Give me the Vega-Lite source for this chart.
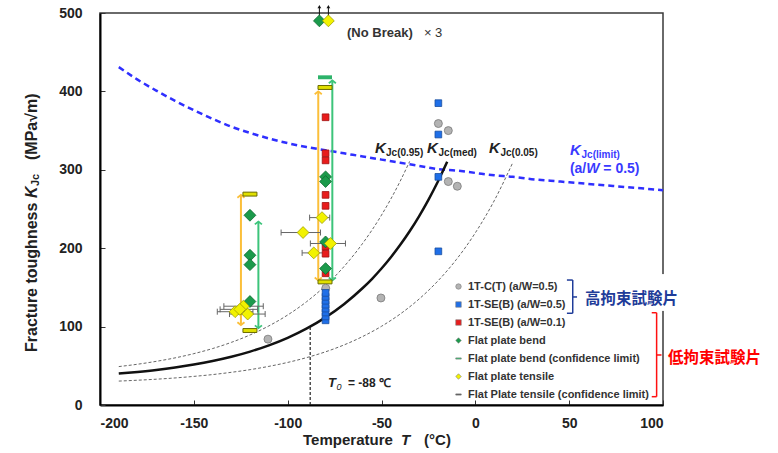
{
  "$schema": "https://vega.github.io/schema/vega-lite/v6.json",
  "width": 563,
  "height": 392,
  "autosize": {"type": "none"},
  "padding": {"left": 100, "top": 13, "right": 115, "bottom": 48},
  "background": "white",
  "config": {
    "view": {"stroke": "#3a3a3a", "strokeWidth": 1.5},
    "font": "Liberation Sans",
    "axis": {"grid": false, "labelFont": "Liberation Sans", "labelFontSize": 14, "labelFontWeight": "bold", "labelColor": "#222", "domainColor": "#000", "domainWidth": 2, "tickColor": "#333", "tickSize": -5, "tickWidth": 1, "labelExpr": "toString(datum.value)"},
    "axisX": {"labelPadding": 16},
    "axisY": {"labelPadding": 23},
    "legend": {"orient": "none", "legendX": 353, "legendY": 268, "padding": 0, "labelFont": "Liberation Sans", "labelFontSize": 11, "labelFontWeight": "bold", "labelColor": "#333", "symbolSize": 30, "rowPadding": 6, "labelOffset": 4, "labelLimit": 300, "symbolStrokeWidth": 0.6}
  },
  "datasets": {
    "one": [{}],
    "curves": [
      {"curve": "lim", "T": -190, "K": 431}, {"curve": "lim", "T": -180, "K": 415}, {"curve": "lim", "T": -170, "K": 401}, {"curve": "lim", "T": -160, "K": 388}, {"curve": "lim", "T": -150, "K": 376}, {"curve": "lim", "T": -140, "K": 365}, {"curve": "lim", "T": -130, "K": 355}, {"curve": "lim", "T": -120, "K": 347}, {"curve": "lim", "T": -110, "K": 340}, {"curve": "lim", "T": -100, "K": 334}, {"curve": "lim", "T": -90, "K": 329}, {"curve": "lim", "T": -80, "K": 325}, {"curve": "lim", "T": -70, "K": 321}, {"curve": "lim", "T": -60, "K": 317}, {"curve": "lim", "T": -50, "K": 313}, {"curve": "lim", "T": -40, "K": 309}, {"curve": "lim", "T": -30, "K": 305}, {"curve": "lim", "T": -20, "K": 301}, {"curve": "lim", "T": -10, "K": 299}, {"curve": "lim", "T": 0, "K": 296}, {"curve": "lim", "T": 10, "K": 293}, {"curve": "lim", "T": 20, "K": 291}, {"curve": "lim", "T": 30, "K": 288}, {"curve": "lim", "T": 40, "K": 286}, {"curve": "lim", "T": 50, "K": 284}, {"curve": "lim", "T": 60, "K": 282}, {"curve": "lim", "T": 70, "K": 280}, {"curve": "lim", "T": 80, "K": 278}, {"curve": "lim", "T": 90, "K": 276}, {"curve": "lim", "T": 100, "K": 274},
      {"curve": "med", "T": -190, "K": 40.1}, {"curve": "med", "T": -180, "K": 42.2}, {"curve": "med", "T": -170, "K": 44.7}, {"curve": "med", "T": -160, "K": 47.8}, {"curve": "med", "T": -150, "K": 51.6}, {"curve": "med", "T": -140, "K": 56.1}, {"curve": "med", "T": -130, "K": 61.5}, {"curve": "med", "T": -120, "K": 68.1}, {"curve": "med", "T": -110, "K": 76.1}, {"curve": "med", "T": -100, "K": 85.7}, {"curve": "med", "T": -90, "K": 97.4}, {"curve": "med", "T": -80, "K": 111.5}, {"curve": "med", "T": -70, "K": 128.6}, {"curve": "med", "T": -60, "K": 149.2}, {"curve": "med", "T": -55, "K": 161.0}, {"curve": "med", "T": -50, "K": 174.1}, {"curve": "med", "T": -45, "K": 188.5}, {"curve": "med", "T": -40, "K": 204.3}, {"curve": "med", "T": -35, "K": 221.6}, {"curve": "med", "T": -30, "K": 240.7}, {"curve": "med", "T": -25, "K": 261.7}, {"curve": "med", "T": -20, "K": 284.8}, {"curve": "med", "T": -15, "K": 310.2},
      {"curve": "p05", "T": -190, "K": 30.5}, {"curve": "p05", "T": -180, "K": 31.6}, {"curve": "p05", "T": -170, "K": 32.9}, {"curve": "p05", "T": -160, "K": 34.5}, {"curve": "p05", "T": -150, "K": 36.5}, {"curve": "p05", "T": -140, "K": 38.8}, {"curve": "p05", "T": -130, "K": 41.7}, {"curve": "p05", "T": -120, "K": 45.1}, {"curve": "p05", "T": -110, "K": 49.3}, {"curve": "p05", "T": -100, "K": 54.3}, {"curve": "p05", "T": -90, "K": 60.4}, {"curve": "p05", "T": -80, "K": 67.7}, {"curve": "p05", "T": -70, "K": 76.6}, {"curve": "p05", "T": -60, "K": 87.4}, {"curve": "p05", "T": -50, "K": 100.4}, {"curve": "p05", "T": -40, "K": 116.1}, {"curve": "p05", "T": -30, "K": 135.1}, {"curve": "p05", "T": -20, "K": 158.1}, {"curve": "p05", "T": -10, "K": 185.9}, {"curve": "p05", "T": 0, "K": 219.6}, {"curve": "p05", "T": 10, "K": 260.3}, {"curve": "p05", "T": 20, "K": 309.4},
      {"curve": "p95", "T": -190, "K": 49.0}, {"curve": "p95", "T": -180, "K": 52.0}, {"curve": "p95", "T": -170, "K": 55.7}, {"curve": "p95", "T": -160, "K": 60.1}, {"curve": "p95", "T": -150, "K": 65.5}, {"curve": "p95", "T": -140, "K": 72.0}, {"curve": "p95", "T": -130, "K": 79.9}, {"curve": "p95", "T": -120, "K": 89.4}, {"curve": "p95", "T": -110, "K": 100.9}, {"curve": "p95", "T": -100, "K": 114.8}, {"curve": "p95", "T": -90, "K": 131.6}, {"curve": "p95", "T": -80, "K": 151.9}, {"curve": "p95", "T": -70, "K": 176.5}, {"curve": "p95", "T": -60, "K": 206.3}, {"curve": "p95", "T": -50, "K": 242.2}, {"curve": "p95", "T": -40, "K": 285.7}, {"curve": "p95", "T": -35, "K": 310.7}
    ],
    "points": [
      {"series": "1T-C(T) (a/W=0.5)", "T": -19.7, "K": 359}, {"series": "1T-C(T) (a/W=0.5)", "T": -14.4, "K": 350}, {"series": "1T-C(T) (a/W=0.5)", "T": -14.4, "K": 285}, {"series": "1T-C(T) (a/W=0.5)", "T": -9.6, "K": 279}, {"series": "1T-C(T) (a/W=0.5)", "T": -50.3, "K": 136.5}, {"series": "1T-C(T) (a/W=0.5)", "T": -110.5, "K": 84}, {"series": "1T-C(T) (a/W=0.5)", "T": -79.7, "K": 149},
      {"series": "1T-SE(B) (a/W=0.5)", "T": -19.7, "K": 385}, {"series": "1T-SE(B) (a/W=0.5)", "T": -19.7, "K": 345}, {"series": "1T-SE(B) (a/W=0.5)", "T": -19.7, "K": 291}, {"series": "1T-SE(B) (a/W=0.5)", "T": -19.7, "K": 196}, {"series": "1T-SE(B) (a/W=0.5)", "T": -79.8, "K": 108}, {"series": "1T-SE(B) (a/W=0.5)", "T": -79.8, "K": 113}, {"series": "1T-SE(B) (a/W=0.5)", "T": -79.8, "K": 118}, {"series": "1T-SE(B) (a/W=0.5)", "T": -79.8, "K": 123}, {"series": "1T-SE(B) (a/W=0.5)", "T": -79.8, "K": 128}, {"series": "1T-SE(B) (a/W=0.5)", "T": -79.8, "K": 133}, {"series": "1T-SE(B) (a/W=0.5)", "T": -79.8, "K": 138}, {"series": "1T-SE(B) (a/W=0.5)", "T": -79.8, "K": 143},
      {"series": "1T-SE(B) (a/W=0.1)", "T": -79.8, "K": 367}, {"series": "1T-SE(B) (a/W=0.1)", "T": -79.8, "K": 321}, {"series": "1T-SE(B) (a/W=0.1)", "T": -79.8, "K": 312}, {"series": "1T-SE(B) (a/W=0.1)", "T": -79.8, "K": 268}, {"series": "1T-SE(B) (a/W=0.1)", "T": -79.8, "K": 254}, {"series": "1T-SE(B) (a/W=0.1)", "T": -79.8, "K": 202}, {"series": "1T-SE(B) (a/W=0.1)", "T": -79.8, "K": 193}, {"series": "1T-SE(B) (a/W=0.1)", "T": -79.8, "K": 168},
      {"series": "Flat plate bend", "T": -79.8, "K": 291}, {"series": "Flat plate bend", "T": -79.8, "K": 285}, {"series": "Flat plate bend", "T": -79.8, "K": 208}, {"series": "Flat plate bend", "T": -79.8, "K": 174}, {"series": "Flat plate bend", "T": -120.1, "K": 242}, {"series": "Flat plate bend", "T": -120.1, "K": 191}, {"series": "Flat plate bend", "T": -120.1, "K": 179}, {"series": "Flat plate bend", "T": -120.1, "K": 132}, {"series": "Flat plate bend", "T": -83.1, "K": 490},
      {"series": "Flat plate tensile", "T": -81.7, "K": 239, "xmin": -88.3, "xmax": -77.6}, {"series": "Flat plate tensile", "T": -91.8, "K": 220, "xmin": -103.5, "xmax": -82.5}, {"series": "Flat plate tensile", "T": -77.2, "K": 206, "xmin": -87.9, "xmax": -69.2}, {"series": "Flat plate tensile", "T": -86.1, "K": 194, "xmin": -92.3, "xmax": -80.8}, {"series": "Flat plate tensile", "T": -128, "K": 119, "xmin": -137.5, "xmax": -118.5}, {"series": "Flat plate tensile", "T": -123.6, "K": 126, "xmin": -134, "xmax": -113}, {"series": "Flat plate tensile", "T": -121.3, "K": 116, "xmin": -131, "xmax": -112}, {"series": "Flat plate tensile", "T": -125.5, "K": 122, "xmin": -136, "xmax": -116}, {"series": "Flat plate tensile", "T": -78.3, "K": 490}
    ],
    "arrows": [
      {"kind": "tensile", "T": -124.9, "lo": 102, "hi": 268}, {"kind": "bend", "T": -115.6, "lo": 98, "hi": 234},
      {"kind": "tensile", "T": -83.7, "lo": 159, "hi": 400}, {"kind": "bend", "T": -76.2, "lo": 159, "hi": 414}
    ],
    "limits": [
      {"kind": "tensile", "T": -120.1, "K": 269}, {"kind": "tensile", "T": -120.1, "K": 95},
      {"kind": "bend", "T": -80.1, "K": 418}, {"kind": "tensile", "T": -80.1, "K": 405}, {"kind": "tensile", "T": -80.1, "K": 157}
    ],
    "nobreak": [{"T": -83.1}, {"T": -78.3}],
    "brackets": [
      {"g": "hi", "x1": 51.9, "x2": 51.9, "y1": 159.4, "y2": 117}, {"g": "hi", "x1": 48.8, "x2": 51.9, "y1": 159.4, "y2": 159.4}, {"g": "hi", "x1": 48.8, "x2": 51.9, "y1": 117, "y2": 117}, {"g": "hi", "x1": 51.9, "x2": 54.2, "y1": 137.8, "y2": 137.8},
      {"g": "lo", "x1": 96.6, "x2": 96.6, "y1": 117.7, "y2": 10.6}, {"g": "lo", "x1": 94, "x2": 96.6, "y1": 117.7, "y2": 117.7}, {"g": "lo", "x1": 94, "x2": 96.6, "y1": 10.6, "y2": 10.6}, {"g": "lo", "x1": 96.6, "x2": 99.2, "y1": 63.8, "y2": 63.8}
    ]
  },
  "layer": [
    {"data": {"name": "curves"}, "transform": [{"filter": "datum.curve == 'lim'"}],
     "mark": {"type": "line", "color": "#2f2fff", "strokeWidth": 2.5, "strokeDash": [6, 4], "interpolate": "monotone"},
     "encoding": {
       "x": {"field": "T", "type": "quantitative", "title": null, "scale": {"domain": [-200, 100], "nice": false, "zero": false}, "axis": {"values": [-200, -150, -100, -50, 0, 50, 100]}},
       "y": {"field": "K", "type": "quantitative", "title": null, "scale": {"domain": [0, 500], "nice": false}, "axis": {"values": [0, 100, 200, 300, 400, 500]}}}},
    {"data": {"name": "curves"}, "transform": [{"filter": "datum.curve == 'p05' || datum.curve == 'p95'"}],
     "mark": {"type": "line", "color": "#666", "strokeWidth": 1, "strokeDash": [3, 2], "interpolate": "monotone"},
     "encoding": {"x": {"field": "T", "type": "quantitative", "title": null}, "y": {"field": "K", "type": "quantitative", "title": null}, "detail": {"field": "curve"}}},
    {"data": {"name": "curves"}, "transform": [{"filter": "datum.curve == 'med'"}],
     "mark": {"type": "line", "color": "#111", "strokeWidth": 2.5, "interpolate": "monotone"},
     "encoding": {"x": {"field": "T", "type": "quantitative", "title": null}, "y": {"field": "K", "type": "quantitative", "title": null}}},
    {"data": {"name": "one"}, "mark": {"type": "rule", "color": "#222", "strokeWidth": 1.2, "strokeDash": [3, 2]},
     "encoding": {"x": {"datum": -88, "type": "quantitative", "title": null}, "y": {"datum": 0, "type": "quantitative", "title": null}, "y2": {"datum": 100}}},
    {"data": {"name": "arrows"}, "transform": [{"filter": "datum.kind == 'tensile'"}], "mark": {"type": "rule", "color": "#fbbf3a", "strokeWidth": 2},
     "encoding": {"x": {"field": "T", "type": "quantitative", "title": null}, "y": {"field": "lo", "type": "quantitative", "title": null}, "y2": {"field": "hi"}}},
    {"data": {"name": "arrows"}, "transform": [{"filter": "datum.kind == 'bend'"}], "mark": {"type": "rule", "color": "#3cc47a", "strokeWidth": 2},
     "encoding": {"x": {"field": "T", "type": "quantitative", "title": null}, "y": {"field": "lo", "type": "quantitative", "title": null}, "y2": {"field": "hi"}}},
    {"data": {"name": "arrows"}, "transform": [{"filter": "datum.kind == 'tensile'"}], "mark": {"type": "point", "shape": "M-1,0.8L0,0L1,0.8", "filled": false, "stroke": "#fbbf3a", "strokeWidth": 1.8, "size": 50, "opacity": 1},
     "encoding": {"x": {"field": "T", "type": "quantitative", "title": null}, "y": {"field": "hi", "type": "quantitative", "title": null}}},
    {"data": {"name": "arrows"}, "transform": [{"filter": "datum.kind == 'tensile'"}], "mark": {"type": "point", "shape": "M-1,-0.8L0,0L1,-0.8", "filled": false, "stroke": "#fbbf3a", "strokeWidth": 1.8, "size": 50, "opacity": 1},
     "encoding": {"x": {"field": "T", "type": "quantitative", "title": null}, "y": {"field": "lo", "type": "quantitative", "title": null}}},
    {"data": {"name": "arrows"}, "transform": [{"filter": "datum.kind == 'bend'"}], "mark": {"type": "point", "shape": "M-1,0.8L0,0L1,0.8", "filled": false, "stroke": "#3cc47a", "strokeWidth": 1.8, "size": 50, "opacity": 1},
     "encoding": {"x": {"field": "T", "type": "quantitative", "title": null}, "y": {"field": "hi", "type": "quantitative", "title": null}}},
    {"data": {"name": "arrows"}, "transform": [{"filter": "datum.kind == 'bend'"}], "mark": {"type": "point", "shape": "M-1,-0.8L0,0L1,-0.8", "filled": false, "stroke": "#3cc47a", "strokeWidth": 1.8, "size": 50, "opacity": 1},
     "encoding": {"x": {"field": "T", "type": "quantitative", "title": null}, "y": {"field": "lo", "type": "quantitative", "title": null}}},
    {"data": {"name": "limits"}, "transform": [{"filter": "datum.kind == 'tensile'"}], "mark": {"type": "point", "shape": "M-1,-0.28H1V0.28H-1Z", "filled": true, "fill": "#e0e000", "stroke": "#6b6b00", "strokeWidth": 1, "size": 196, "opacity": 1},
     "encoding": {"x": {"field": "T", "type": "quantitative", "title": null}, "y": {"field": "K", "type": "quantitative", "title": null}}},
    {"data": {"name": "limits"}, "transform": [{"filter": "datum.kind == 'bend'"}], "mark": {"type": "point", "shape": "M-1,-0.28H1V0.28H-1Z", "filled": true, "fill": "#2db36a", "strokeWidth": 0, "size": 196, "opacity": 1},
     "encoding": {"x": {"field": "T", "type": "quantitative", "title": null}, "y": {"field": "K", "type": "quantitative", "title": null}}},
    {"data": {"name": "points"}, "transform": [{"filter": "datum.xmin != null"}], "mark": {"type": "rule", "color": "#666", "strokeWidth": 1},
     "encoding": {"x": {"field": "xmin", "type": "quantitative", "title": null}, "x2": {"field": "xmax"}, "y": {"field": "K", "type": "quantitative", "title": null}}},
    {"data": {"name": "points"}, "transform": [{"filter": "datum.xmin != null"}], "mark": {"type": "point", "shape": "M0,-1L0,1", "filled": false, "stroke": "#666", "strokeWidth": 1, "size": 36, "opacity": 1},
     "encoding": {"x": {"field": "xmin", "type": "quantitative", "title": null}, "y": {"field": "K", "type": "quantitative", "title": null}}},
    {"data": {"name": "points"}, "transform": [{"filter": "datum.xmin != null"}], "mark": {"type": "point", "shape": "M0,-1L0,1", "filled": false, "stroke": "#666", "strokeWidth": 1, "size": 36, "opacity": 1},
     "encoding": {"x": {"field": "xmax", "type": "quantitative", "title": null}, "y": {"field": "K", "type": "quantitative", "title": null}}},
    {"data": {"name": "nobreak"}, "mark": {"type": "rule", "color": "#111", "strokeWidth": 1},
     "encoding": {"x": {"field": "T", "type": "quantitative", "title": null}, "y": {"datum": 490, "type": "quantitative", "title": null}, "y2": {"datum": 507}}},
    {"data": {"name": "nobreak"}, "mark": {"type": "point", "shape": "triangle-up", "filled": true, "fill": "#111", "size": 14, "opacity": 1, "strokeWidth": 0},
     "encoding": {"x": {"field": "T", "type": "quantitative", "title": null}, "y": {"datum": 508, "type": "quantitative", "title": null}}},
    {"data": {"name": "points"}, "transform": [{"filter": "datum.series == '1T-C(T) (a/W=0.5)'"}], "mark": {"type": "point", "filled": true, "opacity": 1, "size": 64, "stroke": "#7a7a7a", "strokeWidth": 0.8},
     "encoding": {
       "x": {"field": "T", "type": "quantitative", "title": null},
       "y": {"field": "K", "type": "quantitative", "title": null},
       "color": {"field": "series", "type": "nominal", "title": null,
         "scale": {"domain": ["1T-C(T) (a/W=0.5)", "1T-SE(B) (a/W=0.5)", "1T-SE(B) (a/W=0.1)", "Flat plate bend", "Flat plate bend (confidence limit)", "Flat plate tensile", "Flat Plate tensile (confidence limit)"],
                   "range": ["#b3b3b3", "#1f6fe8", "#e81c1c", "#1b9a4b", "#2ecc71", "#f2f200", "#555555"]},
         "legend": {"title": null, "symbolSize": 30}},
       "shape": {"field": "series", "type": "nominal", "title": null,
         "scale": {"domain": ["1T-C(T) (a/W=0.5)", "1T-SE(B) (a/W=0.5)", "1T-SE(B) (a/W=0.1)", "Flat plate bend", "Flat plate bend (confidence limit)", "Flat plate tensile", "Flat Plate tensile (confidence limit)"],
                   "range": ["circle", "square", "square", "diamond", "M-1,-0.22H1V0.22H-1Z", "diamond", "M-1,-0.22H1V0.22H-1Z"]},
         "legend": {"title": null, "symbolSize": 30}}}},
    {"data": {"name": "points"}, "transform": [{"filter": "datum.series == '1T-SE(B) (a/W=0.5)'"}], "mark": {"type": "point", "filled": true, "opacity": 1, "size": 45, "stroke": "#1a4fa0", "strokeWidth": 0.8},
     "encoding": {"x": {"field": "T", "type": "quantitative", "title": null}, "y": {"field": "K", "type": "quantitative", "title": null}, "color": {"field": "series", "type": "nominal", "title": null}, "shape": {"field": "series", "type": "nominal", "title": null}}},
    {"data": {"name": "points"}, "transform": [{"filter": "datum.series == '1T-SE(B) (a/W=0.1)'"}], "mark": {"type": "point", "filled": true, "opacity": 1, "size": 45, "stroke": "#a01010", "strokeWidth": 0.8},
     "encoding": {"x": {"field": "T", "type": "quantitative", "title": null}, "y": {"field": "K", "type": "quantitative", "title": null}, "color": {"field": "series", "type": "nominal", "title": null}, "shape": {"field": "series", "type": "nominal", "title": null}}},
    {"data": {"name": "points"}, "transform": [{"filter": "datum.series == 'Flat plate bend'"}], "mark": {"type": "point", "filled": true, "opacity": 1, "size": 140, "stroke": "#0d6b30", "strokeWidth": 0.8},
     "encoding": {"x": {"field": "T", "type": "quantitative", "title": null}, "y": {"field": "K", "type": "quantitative", "title": null}, "color": {"field": "series", "type": "nominal", "title": null}, "shape": {"field": "series", "type": "nominal", "title": null}}},
    {"data": {"name": "points"}, "transform": [{"filter": "datum.series == 'Flat plate tensile'"}], "mark": {"type": "point", "filled": true, "opacity": 1, "size": 140, "stroke": "#a0a000", "strokeWidth": 0.8},
     "encoding": {"x": {"field": "T", "type": "quantitative", "title": null}, "y": {"field": "K", "type": "quantitative", "title": null}, "color": {"field": "series", "type": "nominal", "title": null}, "shape": {"field": "series", "type": "nominal", "title": null}}},
    {"data": {"name": "one"}, "mark": {"type": "text", "text": "(No Break)", "align": "left", "baseline": "middle", "fontSize": 13, "fontWeight": "bold", "fill": "#333"},
     "encoding": {"x": {"datum": -68.4, "type": "quantitative", "title": null}, "y": {"datum": 474.5, "type": "quantitative", "title": null}}},
    {"data": {"name": "one"}, "mark": {"type": "text", "text": "× 3", "align": "left", "baseline": "middle", "fontSize": 13, "fill": "#333"},
     "encoding": {"x": {"datum": -27.4, "type": "quantitative", "title": null}, "y": {"datum": 474.5, "type": "quantitative", "title": null}}},
    {"data": {"name": "one"}, "mark": {"type": "text", "text": "T", "align": "left", "baseline": "middle", "fontSize": 13, "fontWeight": "bold", "fontStyle": "italic", "fill": "#222"},
     "encoding": {"x": {"datum": -78.5, "type": "quantitative", "title": null}, "y": {"datum": 28.1, "type": "quantitative", "title": null}}},
    {"data": {"name": "one"}, "mark": {"type": "text", "text": "0", "align": "left", "baseline": "middle", "dy": 4, "fontSize": 9, "fontStyle": "italic", "fill": "#222"},
     "encoding": {"x": {"datum": -74.0, "type": "quantitative", "title": null}, "y": {"datum": 28.1, "type": "quantitative", "title": null}}},
    {"data": {"name": "one"}, "mark": {"type": "text", "text": "= -88 ℃", "align": "left", "baseline": "middle", "fontSize": 12, "fontWeight": "bold", "fill": "#222"},
     "encoding": {"x": {"datum": -67.9, "type": "quantitative", "title": null}, "y": {"datum": 28.1, "type": "quantitative", "title": null}}},
    {"data": {"name": "one"}, "mark": {"type": "text", "text": "K", "align": "left", "baseline": "alphabetic", "fontSize": 15, "fontWeight": "bold", "fontStyle": "italic", "fill": "#222"},
     "encoding": {"x": {"datum": -53.5, "type": "quantitative", "title": null}, "y": {"datum": 321.4, "type": "quantitative", "title": null}}},
    {"data": {"name": "one"}, "mark": {"type": "text", "text": "Jc(0.95)", "align": "left", "baseline": "alphabetic", "fontSize": 10, "fontWeight": "bold", "fill": "#222"},
     "encoding": {"x": {"datum": -47.6, "type": "quantitative", "title": null}, "y": {"datum": 317.6, "type": "quantitative", "title": null}}},
    {"data": {"name": "one"}, "mark": {"type": "text", "text": "K", "align": "left", "baseline": "alphabetic", "fontSize": 15, "fontWeight": "bold", "fontStyle": "italic", "fill": "#222"},
     "encoding": {"x": {"datum": -25.8, "type": "quantitative", "title": null}, "y": {"datum": 321.4, "type": "quantitative", "title": null}}},
    {"data": {"name": "one"}, "mark": {"type": "text", "text": "Jc(med)", "align": "left", "baseline": "alphabetic", "fontSize": 10, "fontWeight": "bold", "fill": "#222"},
     "encoding": {"x": {"datum": -19.6, "type": "quantitative", "title": null}, "y": {"datum": 317.6, "type": "quantitative", "title": null}}},
    {"data": {"name": "one"}, "mark": {"type": "text", "text": "K", "align": "left", "baseline": "alphabetic", "fontSize": 15, "fontWeight": "bold", "fontStyle": "italic", "fill": "#222"},
     "encoding": {"x": {"datum": 7.3, "type": "quantitative", "title": null}, "y": {"datum": 321.4, "type": "quantitative", "title": null}}},
    {"data": {"name": "one"}, "mark": {"type": "text", "text": "Jc(0.05)", "align": "left", "baseline": "alphabetic", "fontSize": 10, "fontWeight": "bold", "fill": "#222"},
     "encoding": {"x": {"datum": 13.4, "type": "quantitative", "title": null}, "y": {"datum": 317.6, "type": "quantitative", "title": null}}},
    {"data": {"name": "one"}, "mark": {"type": "text", "text": "K", "align": "left", "baseline": "alphabetic", "fontSize": 15, "fontWeight": "bold", "fontStyle": "italic", "fill": "#3a3aff"},
     "encoding": {"x": {"datum": 50.4, "type": "quantitative", "title": null}, "y": {"datum": 318.9, "type": "quantitative", "title": null}}},
    {"data": {"name": "one"}, "mark": {"type": "text", "text": "Jc(limit)", "align": "left", "baseline": "alphabetic", "fontSize": 10, "fontWeight": "bold", "fill": "#3a3aff"},
     "encoding": {"x": {"datum": 56.6, "type": "quantitative", "title": null}, "y": {"datum": 315.1, "type": "quantitative", "title": null}}},
    {"data": {"name": "one"}, "mark": {"type": "text", "text": "(a/", "align": "left", "baseline": "alphabetic", "fontSize": 14, "fontWeight": "bold", "fill": "#3a3aff"},
     "encoding": {"x": {"datum": 50.4, "type": "quantitative", "title": null}, "y": {"datum": 295.9, "type": "quantitative", "title": null}}},
    {"data": {"name": "one"}, "mark": {"type": "text", "text": "W", "align": "left", "baseline": "alphabetic", "fontSize": 14, "fontWeight": "bold", "fontStyle": "italic", "fill": "#3a3aff"},
     "encoding": {"x": {"datum": 59.1, "type": "quantitative", "title": null}, "y": {"datum": 295.9, "type": "quantitative", "title": null}}},
    {"data": {"name": "one"}, "mark": {"type": "text", "text": "= 0.5)", "align": "left", "baseline": "alphabetic", "fontSize": 14, "fontWeight": "bold", "fill": "#3a3aff"},
     "encoding": {"x": {"datum": 68.2, "type": "quantitative", "title": null}, "y": {"datum": 295.9, "type": "quantitative", "title": null}}},
    {"data": {"name": "one"}, "mark": {"type": "text", "text": "Fracture toughness", "angle": 270, "align": "left", "baseline": "middle", "fontSize": 16, "fontWeight": "bold", "fill": "#222"},
     "encoding": {"x": {"datum": -236.2, "type": "quantitative", "title": null}, "y": {"datum": 67.6, "type": "quantitative", "title": null}}},
    {"data": {"name": "one"}, "mark": {"type": "text", "text": "K", "angle": 270, "align": "left", "baseline": "middle", "dx": 154, "fontSize": 16, "fontWeight": "bold", "fontStyle": "italic", "fill": "#222"},
     "encoding": {"x": {"datum": -236.2, "type": "quantitative", "title": null}, "y": {"datum": 67.6, "type": "quantitative", "title": null}}},
    {"data": {"name": "one"}, "mark": {"type": "text", "text": "Jc", "angle": 270, "align": "left", "baseline": "middle", "dx": 166, "dy": 4, "fontSize": 11, "fontWeight": "bold", "fill": "#222"},
     "encoding": {"x": {"datum": -236.2, "type": "quantitative", "title": null}, "y": {"datum": 67.6, "type": "quantitative", "title": null}}},
    {"data": {"name": "one"}, "mark": {"type": "text", "text": "(MPa√m)", "angle": 270, "align": "left", "baseline": "middle", "dx": 192, "fontSize": 16, "fontWeight": "bold", "fill": "#222"},
     "encoding": {"x": {"datum": -236.2, "type": "quantitative", "title": null}, "y": {"datum": 67.6, "type": "quantitative", "title": null}}},
    {"data": {"name": "one"}, "mark": {"type": "text", "text": "Temperature", "align": "left", "baseline": "middle", "fontSize": 15, "fontWeight": "bold", "fill": "#222"},
     "encoding": {"x": {"datum": -91.8, "type": "quantitative", "title": null}, "y": {"datum": -44.6, "type": "quantitative", "title": null}}},
    {"data": {"name": "one"}, "mark": {"type": "text", "text": "T", "align": "left", "baseline": "middle", "dx": 98, "fontSize": 15, "fontWeight": "bold", "fontStyle": "italic", "fill": "#222"},
     "encoding": {"x": {"datum": -91.8, "type": "quantitative", "title": null}, "y": {"datum": -44.6, "type": "quantitative", "title": null}}},
    {"data": {"name": "one"}, "mark": {"type": "text", "text": "(°C)", "align": "left", "baseline": "middle", "dx": 121, "fontSize": 15, "fontWeight": "bold", "fill": "#222"},
     "encoding": {"x": {"datum": -91.8, "type": "quantitative", "title": null}, "y": {"datum": -44.6, "type": "quantitative", "title": null}}},
    {"data": {"name": "one"}, "mark": {"type": "rect", "fill": "white"},
     "encoding": {"x": {"datum": 98.5, "type": "quantitative", "title": null}, "x2": {"datum": 103.5}, "y": {"datum": 120, "type": "quantitative", "title": null}, "y2": {"datum": 167}}},
    {"data": {"name": "brackets"}, "transform": [{"filter": "datum.g == 'hi'"}], "mark": {"type": "rule", "color": "#1f3c99", "strokeWidth": 1.5},
     "encoding": {"x": {"field": "x1", "type": "quantitative", "title": null}, "x2": {"field": "x2"}, "y": {"field": "y1", "type": "quantitative", "title": null}, "y2": {"field": "y2"}}},
    {"data": {"name": "brackets"}, "transform": [{"filter": "datum.g == 'lo'"}], "mark": {"type": "rule", "color": "#ff1010", "strokeWidth": 1.5},
     "encoding": {"x": {"field": "x1", "type": "quantitative", "title": null}, "x2": {"field": "x2"}, "y": {"field": "y1", "type": "quantitative", "title": null}, "y2": {"field": "y2"}}},
    {"data": {"name": "one"}, "mark": {"type": "text", "text": "高拘束試験片", "align": "left", "baseline": "middle", "font": "Noto Sans CJK JP", "fontSize": 15.5, "fontWeight": "bold", "fill": "#1f3c99"},
     "encoding": {"x": {"datum": 58.4, "type": "quantitative", "title": null}, "y": {"datum": 135.2, "type": "quantitative", "title": null}}},
    {"data": {"name": "one"}, "mark": {"type": "text", "text": "低拘束試験片", "align": "left", "baseline": "middle", "font": "Noto Sans CJK JP", "fontSize": 15.5, "fontWeight": "bold", "fill": "#ff0000"},
     "encoding": {"x": {"datum": 102.7, "type": "quantitative", "title": null}, "y": {"datum": 59.9, "type": "quantitative", "title": null}}}
  ]
}
